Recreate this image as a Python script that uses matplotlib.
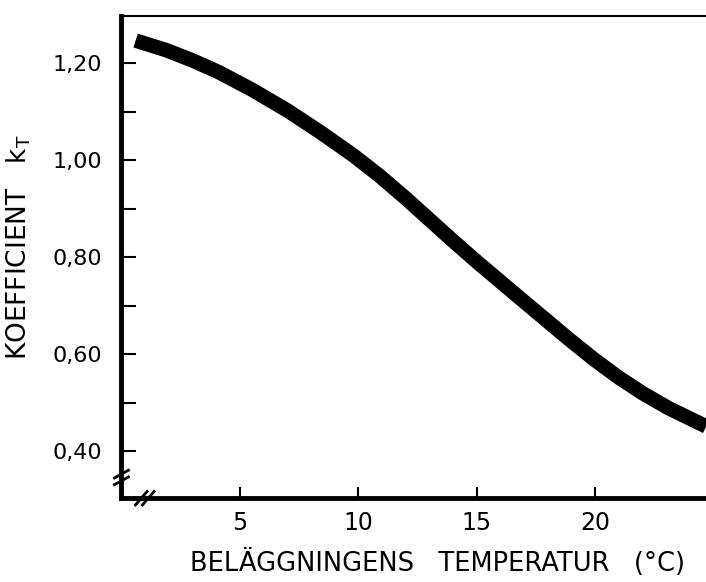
import matplotlib
matplotlib.use("Agg")
import matplotlib.pyplot as plt

# curve
temperature = [0.6, 1.9, 3.0, 4.1, 5.5, 7.0, 8.4, 9.8, 10.9, 12.0, 13.0, 14.0, 15.1,
               16.0, 16.8, 17.9, 18.9, 20.0, 21.0, 22.0, 23.1, 24.7]
k_t = [1.247, 1.227, 1.206, 1.182, 1.146, 1.103, 1.058, 1.010, 0.968, 0.922, 0.878, 0.834, 0.787,
       0.750, 0.717, 0.672, 0.631, 0.588, 0.552, 0.520, 0.489, 0.451]

x_ticks = [5, 10, 15, 20]
y_ticks = [0.40, 0.60, 0.80, 1.00, 1.20]
y_minor = [0.50, 0.70, 0.90, 1.10]
y_tick_labels = ["0,40", "0,60", "0,80", "1,00", "1,20"]

plt.rcParams["font.family"] = "DejaVu Sans"

fig = plt.figure(figsize=(7.06, 5.82), dpi=100)
ax = fig.add_axes([0.172, 0.144, 0.828, 0.828])

ax.plot(temperature, k_t, color="black", lw=10.5, solid_capstyle="butt", solid_joinstyle="round")

ax.set_xlim(0, 24.69)
ax.set_ylim(0.303, 1.297)

ax.set_xticks(x_ticks)
ax.set_xticklabels([str(t) for t in x_ticks], fontsize=17)
ax.set_yticks(y_ticks)
ax.set_yticklabels(y_tick_labels, fontsize=16)
ax.set_yticks(y_minor, minor=True)

ax.tick_params(axis="x", direction="in", length=8, width=1.5, pad=9)
ax.tick_params(axis="y", which="both", direction="in", length=11, width=1.5, pad=14)

ax.spines["left"].set_linewidth(3.5)
ax.spines["bottom"].set_linewidth(3.5)
ax.spines["top"].set_linewidth(1.5)
ax.spines["right"].set_visible(False)

ax.set_xlabel("BELÄGGNINGENS   TEMPERATUR   (°C)", fontsize=18.5)
ax.xaxis.set_label_coords(0.54, -0.105)
ax.set_ylabel("KOEFFICIENT   k$_{\\mathrm{T}}$", fontsize=19)
ax.yaxis.set_label_coords(-0.152, 0.52)

# axis break marks at the corner
tr = ax.transAxes
for dx in (0.0, 0.012):
    ax.plot([0.024 + dx, 0.044 + dx], [-0.014, 0.014], color="black", lw=2, transform=tr, clip_on=False)
for dy in (0.0, 0.014):
    ax.plot([-0.012, 0.012], [0.028 + dy, 0.044 + dy], color="black", lw=2, transform=tr, clip_on=False)

fig.savefig("out.png", dpi=100)
